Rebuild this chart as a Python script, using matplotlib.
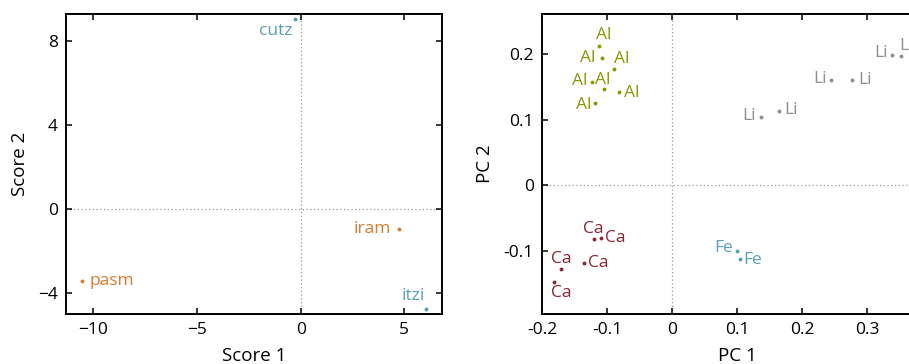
import matplotlib
matplotlib.use("Agg")
import matplotlib.pyplot as plt

plt.rcParams["font.family"] = ["Open Sans", "DejaVu Sans"]
plt.rcParams["font.size"] = 12.5

# ---- Score plot (samples) ----
sample_names = ["cutz", "iram", "pasm", "itzi"]
score1 = [-0.29, 4.76, -10.55, 6.04]
score2 = [9.08, -0.92, -3.40, -4.76]
sample_groups = ["blue", "orange", "orange", "blue"]

# ---- Loading plot (elements) ----
element_names = ["Al", "Al", "Al", "Al", "Al", "Al", "Al",
                 "Li", "Li", "Li", "Li", "Li", "Li",
                 "Ca", "Ca", "Ca", "Ca", "Ca",
                 "Fe", "Fe"]
pc1 = [-0.112, -0.108, -0.089, -0.123, -0.105, -0.082, -0.118,
       0.137, 0.165, 0.245, 0.277, 0.339, 0.353,
       -0.120, -0.109, -0.136, -0.171, -0.181,
       0.100, 0.104]
pc2 = [0.212, 0.195, 0.177, 0.157, 0.147, 0.143, 0.125,
       0.104, 0.113, 0.161, 0.161, 0.199, 0.197,
       -0.082, -0.080, -0.118, -0.128, -0.148,
       -0.100, -0.113]

colors = {
    "blue": "#5b9fb6",
    "orange": "#d97c2e",
    "Al": "#8a9a00",
    "Li": "#8e8e8e",
    "Ca": "#8c2436",
    "Fe": "#5b9fb6",
}

# label placement: (dx, dy) in pixels, horizontal alignment
sample_label_pos = [((-2, -12), "right"), ((-8, 0), "right"),
                    ((8, 0), "left"), ((-1, 13), "right")]
element_label_pos = [((5, 11), "center"), ((-6, 0), "right"), ((0, 10), "left"),
                     ((-5, 1), "right"), ((-1, 9), "center"), ((5, -1), "left"),
                     ((-4, -2), "right"),
                     ((-5, 1), "right"), ((5, 1), "left"), ((-4, 1), "right"),
                     ((6, 0), "left"), ((-4, 2), "right"), ((-2, 10), "left"),
                     ((-1, 10), "center"), ((4, 0), "left"), ((4, 0), "left"),
                     ((0, 10), "center"), ((7, -11), "center"),
                     ((-4, 3), "right"), ((4, -1), "left")]

LABEL_SIZE = 12.5
TICK_SIZE = 12.5
AXLABEL_SIZE = 13.5

fig = plt.figure(figsize=(9.09, 3.64), dpi=100)
ax1 = fig.add_axes([66 / 909, 50 / 364, 376 / 909, 300 / 364])
ax2 = fig.add_axes([542 / 909, 50 / 364, 390 / 909, 300 / 364])


def style_axes(ax):
    for sp in ax.spines.values():
        sp.set_linewidth(1.4)
    ax.tick_params(direction="in", length=4, width=1.1, top=True, right=True,
                   labelsize=TICK_SIZE, pad=6)
    ax.axhline(0, color="#9a9a9a", lw=0.9, ls=(0, (1, 2)), zorder=0)
    ax.axvline(0, color="#9a9a9a", lw=0.9, ls=(0, (1, 2)), zorder=0)


style_axes(ax1)
style_axes(ax2)

for x, y, name, grp, (off, ha) in zip(score1, score2, sample_names,
                                     sample_groups, sample_label_pos):
    c = colors[grp]
    ax1.plot(x, y, "o", ms=2.8, color=c, mec="none", clip_on=False)
    ax1.annotate(name, (x, y), xytext=off, textcoords="offset pixels",
                 ha=ha, va="center", color=c, fontsize=LABEL_SIZE)

ax1.set_xlim(-11.32, 6.82)
ax1.set_ylim(-4.99, 9.3)
ax1.set_xticks([-10, -5, 0, 5])
ax1.set_yticks([-4, 0, 4, 8])
ax1.set_xlabel("Score 1", fontsize=AXLABEL_SIZE, labelpad=6)
ax1.set_ylabel("Score 2", fontsize=AXLABEL_SIZE, labelpad=6)

for x, y, name, (off, ha) in zip(pc1, pc2, element_names, element_label_pos):
    c = colors[name]
    ax2.plot(x, y, "o", ms=2.8, color=c, mec="none", clip_on=False)
    ax2.annotate(name, (x, y), xytext=off, textcoords="offset pixels",
                 ha=ha, va="center", color=c, fontsize=LABEL_SIZE)

ax2.set_xlim(-0.2, 0.4)
ax2.set_ylim(-0.1965, 0.2615)
ax2.set_xticks([-0.2, -0.1, 0, 0.1, 0.2, 0.3])
ax2.set_xticklabels(["-0.2", "-0.1", "0", "0.1", "0.2", "0.3"])
ax2.set_yticks([-0.1, 0, 0.1, 0.2])
ax2.set_yticklabels(["-0.1", "0", "0.1", "0.2"])
ax2.set_xlabel("PC 1", fontsize=AXLABEL_SIZE, labelpad=6)
ax2.set_ylabel("PC 2", fontsize=AXLABEL_SIZE, labelpad=7)

fig.savefig("out.png", dpi=100)
